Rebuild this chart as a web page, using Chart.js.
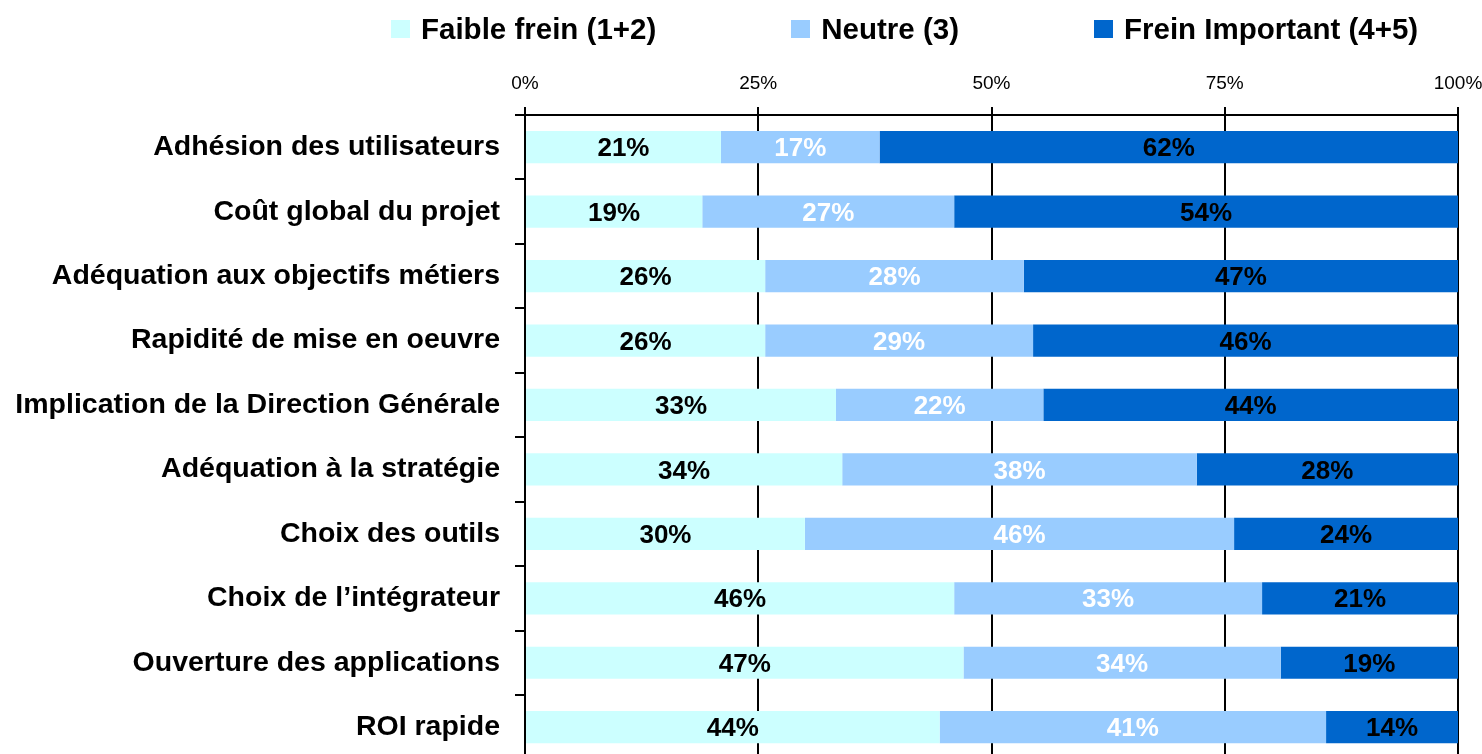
<!DOCTYPE html>
<html><head><meta charset="utf-8">
<script src="https://cdn.jsdelivr.net/npm/chart.js@4/dist/chart.umd.min.js"></script>
<style>
html,body{margin:0;padding:0;width:1482px;height:754px;overflow:hidden;background:#fff;}
#wrap{position:relative;width:1482px;height:772px;}
#c{position:absolute;left:0;top:0;}
#legend{position:absolute;left:391px;top:12px;display:flex;align-items:center;font:bold 29.5px "Liberation Sans",Arial,sans-serif;line-height:34px;color:#000;white-space:nowrap;}
.item{display:flex;align-items:center;margin-right:135px;}
.box{width:19px;height:18px;margin-right:11px;}
</style></head>
<body><div id="wrap"><canvas id="c" width="1482" height="772"></canvas><div id="legend"></div></div>
<script>
const categories = [
  'Adhésion des utilisateurs',
  'Coût global du projet',
  'Adéquation aux objectifs métiers',
  'Rapidité de mise en oeuvre',
  'Implication de la Direction Générale',
  'Adéquation à la stratégie',
  'Choix des outils',
  'Choix de l’intégrateur',
  'Ouverture des applications',
  'ROI rapide'
];
const faibleFrein = [21,19,26,26,33,34,30,46,47,44];
const neutre = [17,27,28,29,22,38,46,33,34,41];
const freinImportant = [62,54,47,46,44,28,24,21,19,14];
const seriesNames = ['Faible frein (1+2)','Neutre (3)','Frein Important (4+5)'];
const seriesColors = ['#CCFFFF','#99CCFF','#0066CC'];
const labelColors = ['#000000','#FFFFFF','#000000'];
const xTickValues = [0,25,50,75,100];

const rawSeries = [faibleFrein, neutre, freinImportant];
// 100% stacked: each category is normalised to its own total
const totals = categories.map((_, i) => rawSeries.reduce((s, arr) => s + arr[i], 0));
const datasets = rawSeries.map((arr, di) => ({
  label: seriesNames[di],
  data: arr.map((v, i) => v / totals[i] * 100),
  backgroundColor: seriesColors[di],
  borderWidth: 0,
  barPercentage: 0.5,
  categoryPercentage: 1.0
}));

// HTML legend built from the datasets
const legendEl = document.getElementById('legend');
datasets.forEach(ds => {
  const it = document.createElement('div'); it.className = 'item';
  const b = document.createElement('div'); b.className = 'box'; b.style.background = ds.backgroundColor;
  const t = document.createElement('span'); t.textContent = ds.label;
  it.appendChild(b); it.appendChild(t); legendEl.appendChild(it);
});

const FONT = '"Liberation Sans", Arial, sans-serif';
const valueLabels = {
  id: 'valueLabels',
  afterDatasetsDraw(chart) {
    const ctx = chart.ctx;
    ctx.save();
    ctx.font = 'bold 26px ' + FONT;
    ctx.textAlign = 'center';
    ctx.textBaseline = 'middle';
    chart.data.datasets.forEach((ds, di) => {
      const meta = chart.getDatasetMeta(di);
      meta.data.forEach((bar, i) => {
        const cx = (bar.x + bar.base) / 2;
        ctx.fillStyle = labelColors[di];
        ctx.fillText(rawSeries[di][i] + '%', cx, bar.y + 2);
      });
    });
    ctx.restore();
  }
};

new Chart(document.getElementById('c'), {
  type: 'bar',
  data: { labels: categories, datasets },
  options: {
    indexAxis: 'y',
    responsive: false,
    devicePixelRatio: 1,
    animation: false,
    layout: { padding: { left: 0, right: 24, top: 0, bottom: 12.6 } },
    plugins: { legend: { display: false }, tooltip: { enabled: false } },
    scales: {
      x: {
        position: 'top',
        stacked: true,
        min: 0, max: 100,
        afterBuildTicks(s) { s.ticks = xTickValues.map(v => ({ value: v })); },
        afterFit(s) { s.height = 115; s.paddingLeft = 0; s.paddingRight = 0; },
        ticks: {
          callback: v => v + '%',
          font: { family: FONT, size: 19 },
          color: '#000',
          padding: 12,
          maxRotation: 0
        },
        grid: { color: '#000', lineWidth: 2, tickLength: 8, drawTicks: true },
        border: { color: '#000', width: 2 }
      },
      y: {
        stacked: true,
        afterFit(s) { s.width = 525; s.paddingTop = 0; s.paddingBottom = 0; },
        ticks: {
          font: { family: FONT, size: 28.5, weight: 'bold' },
          color: '#000',
          padding: 15,
          autoSkip: false
        },
        grid: { offset: true, drawOnChartArea: false, color: '#000', lineWidth: 2, tickLength: 10 },
        border: { color: '#000', width: 2 }
      }
    }
  },
  plugins: [valueLabels]
});
</script>
</body></html>
